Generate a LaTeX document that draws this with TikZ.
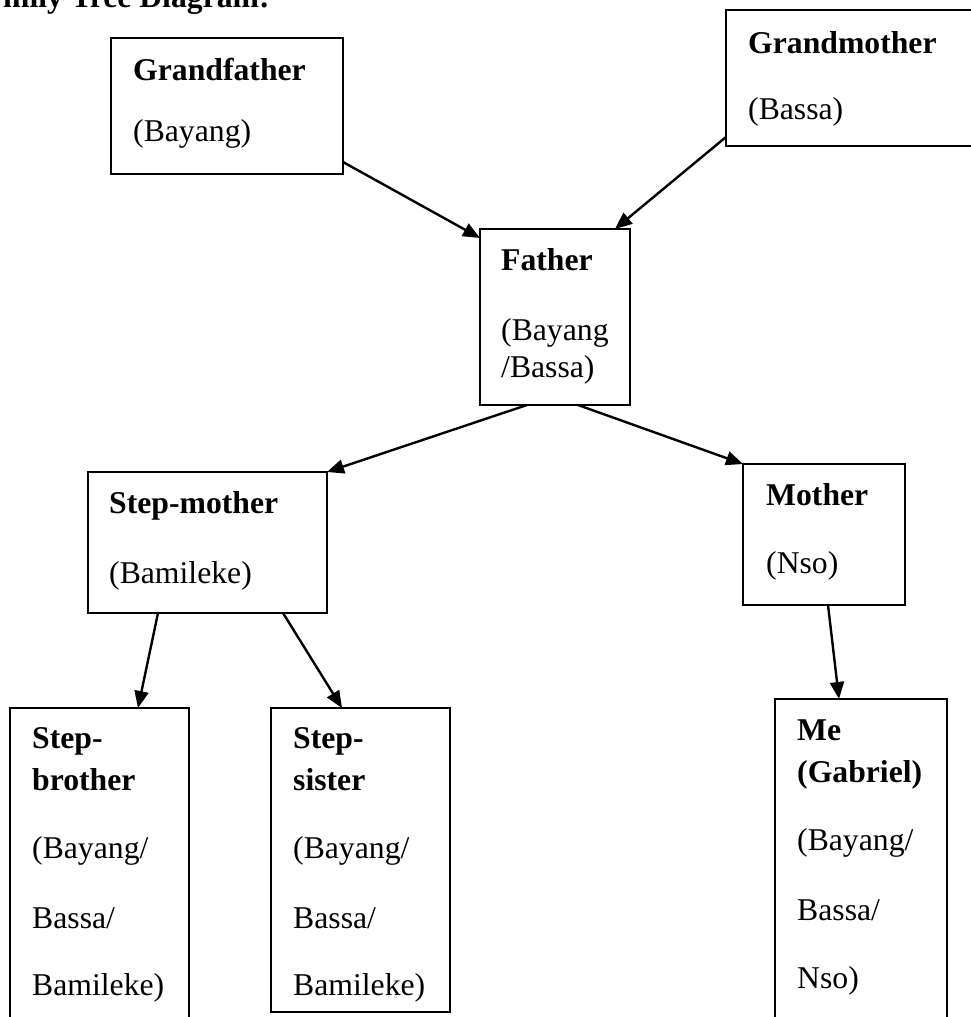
\documentclass[tikz,border=0pt]{standalone}
\usepackage{fontspec}
\setmainfont{Liberation Serif}
\usetikzlibrary{arrows.meta,calc}

\begin{document}
\begin{tikzpicture}[x=1pt,y=-1pt,>={Triangle[length=17pt,width=14pt]},line width=2.4pt,
  person/.style={draw,line width=1.8pt,inner sep=0pt,outer sep=0pt,anchor=north west},
  who/.style={anchor=base west,inner sep=0pt,font=\fontsize{31.7}{38}\selectfont\bfseries},
  kin/.style={anchor=base west,inner sep=0pt,font=\fontsize{31.7}{38}\selectfont}]

\useasboundingbox (0,0) rectangle (971,1017);
\clip (0,0) rectangle (971,1017);

% heading, cut at the top
\node[who] (title) at (2,7) {mily Tree Diagram:};

% boxes
\node[person,minimum width=232pt,minimum height=136pt] (gfather) at (111,38) {};
\node[person,minimum width=250pt,minimum height=136pt] (gmother) at (726,10) {};
\node[person,minimum width=150pt,minimum height=176pt] (father) at (480,229) {};
\node[person,minimum width=239pt,minimum height=141pt] (stepmom) at (88,472) {};
\node[person,minimum width=162pt,minimum height=141pt] (mother) at (743,464) {};
\node[person,minimum width=179pt,minimum height=330pt] (stepbro) at (10,708) {};
\node[person,minimum width=179pt,minimum height=304pt] (stepsis) at (271,708) {};
\node[person,minimum width=172pt,minimum height=340pt] (me) at (775,699) {};

% texts
\node[who] (gfname) at (132,80) {Grandfather};
\node[kin] (gfkin) at (132,141) {(Bayang)};
\node[who] (gmname) at (747,53) {Grandmother};
\node[kin] (gmkin) at (747,119) {(Bassa)};
\node[who] (faname) at (500,270) {Father};
\node[kin] (fakin1) at (500,340) {(Bayang};
\node[kin] (fakin2) at (500,377) {/Bassa)};
\node[who] (smname) at (108,513) {Step-mother};
\node[kin] (smkin) at (108,583) {(Bamileke)};
\node[who] (moname) at (765,505) {Mother};
\node[kin] (mokin) at (765,573) {(Nso)};
\node[who] (sbname1) at (31,748) {Step-};
\node[who] (sbname2) at (31,790) {brother};
\node[kin] (sbkin1) at (31,858) {(Bayang/};
\node[kin] (sbkin2) at (31,928) {Bassa/};
\node[kin] (sbkin3) at (31,995) {Bamileke)};
\node[who] (ssname1) at (292,748) {Step-};
\node[who] (ssname2) at (292,790) {sister};
\node[kin] (sskin1) at (292,858) {(Bayang/};
\node[kin] (sskin2) at (292,928) {Bassa/};
\node[kin] (sskin3) at (292,995) {Bamileke)};
\node[who] (mename1) at (796,740) {Me};
\node[who] (mename2) at (796,782) {(Gabriel)};
\node[kin] (mekin1) at (796,850) {(Bayang/};
\node[kin] (mekin2) at (796,920) {Bassa/};
\node[kin] (mekin3) at (796,988) {Nso)};

% arrows
\draw[->] ($(gfather.south east)+(0,-12)$) -- ($(father.north west)+(0,9)$);
\draw[->] ($(gmother.south west)+(0,-9)$) -- ($(father.north east)+(-15,0)$);
\draw[->] ($(father.south)+(-28,0)$) -- (stepmom.north east);
\draw[->] ($(father.south)+(23,0)$) -- (mother.north west);
\draw[->] ($(stepmom.south)+(-49.5,0)$) -- ($(stepbro.north)+(38.5,0)$);
\draw[->] ($(stepmom.south)+(75.5,0)$) -- ($(stepsis.north)+(-18.5,0)$);
\draw[->] ($(mother.south)+(4,0)$) -- ($(me.north)+(-22,0)$);

\end{tikzpicture}
\end{document}
